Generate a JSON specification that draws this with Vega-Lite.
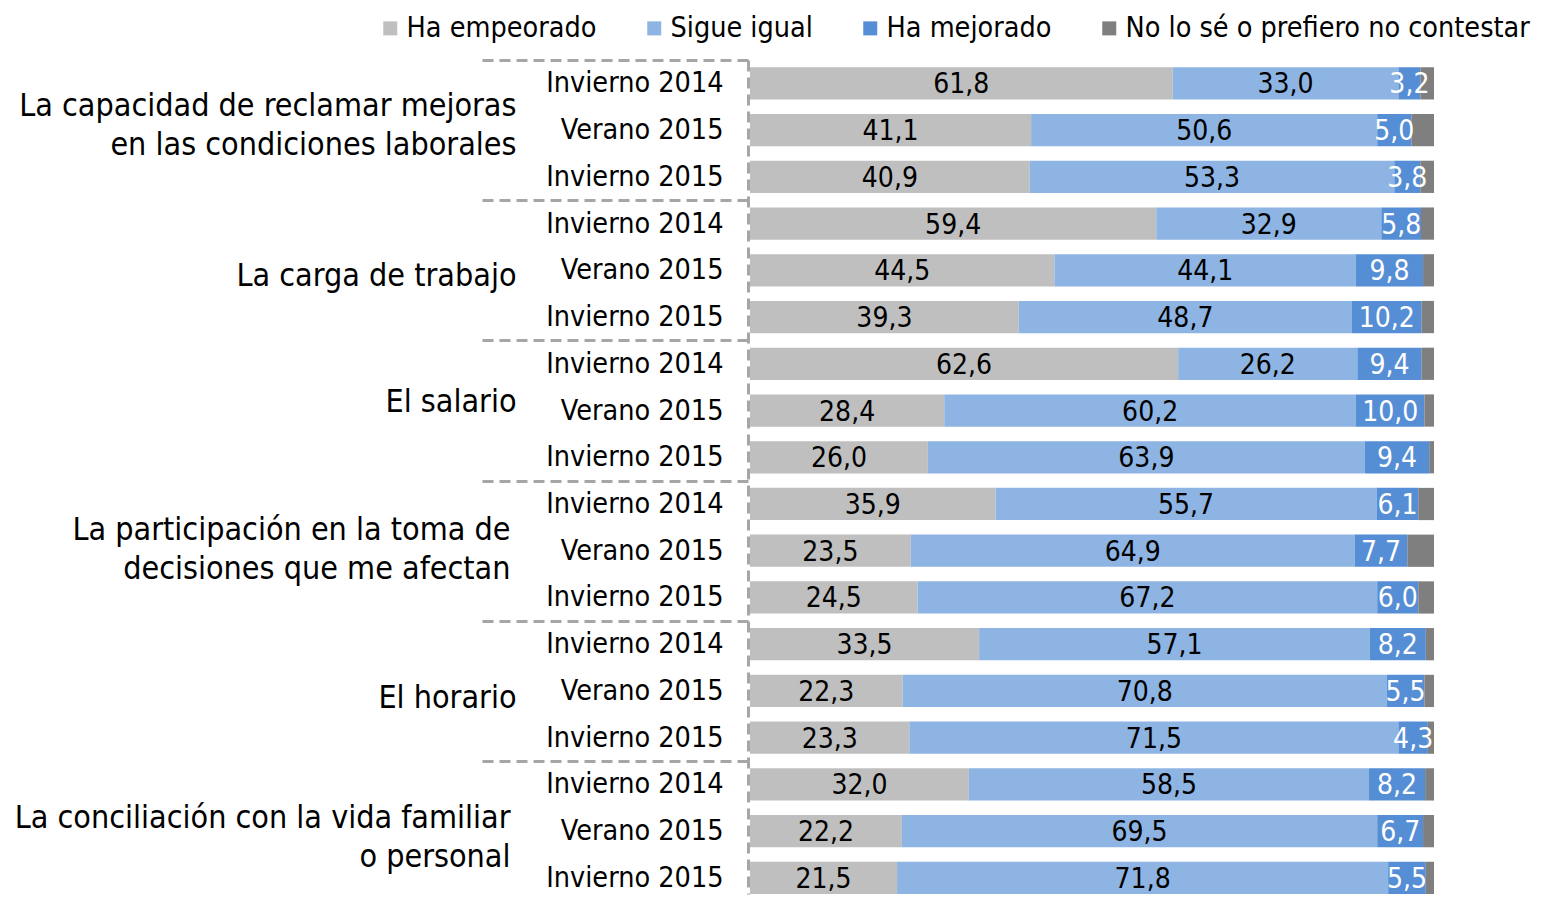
{
  "$schema": "https://vega.github.io/schema/vega-lite/v6.json",
  "width": 684,
  "height": 834,
  "autosize": {"type": "none"},
  "padding": {"left": 750, "top": 60, "right": 110, "bottom": 4},
  "background": "white",
  "config": {
    "font": "DejaVu Sans Condensed",
    "view": {"stroke": null}
  },
  "data": {
    "values": [
      {"g": "La capacidad de reclamar mejoras\nen las condiciones laborales", "p": "Invierno 2014", "Ha empeorado": 61.8, "Sigue igual": 33.0, "Ha mejorado": 3.2, "No lo sé o prefiero no contestar": 2.0},
      {"g": "La capacidad de reclamar mejoras\nen las condiciones laborales", "p": "Verano 2015", "Ha empeorado": 41.1, "Sigue igual": 50.6, "Ha mejorado": 5.0, "No lo sé o prefiero no contestar": 3.3},
      {"g": "La capacidad de reclamar mejoras\nen las condiciones laborales", "p": "Invierno 2015", "Ha empeorado": 40.9, "Sigue igual": 53.3, "Ha mejorado": 3.8, "No lo sé o prefiero no contestar": 2.0},
      {"g": "La carga de trabajo", "p": "Invierno 2014", "Ha empeorado": 59.4, "Sigue igual": 32.9, "Ha mejorado": 5.8, "No lo sé o prefiero no contestar": 1.9},
      {"g": "La carga de trabajo", "p": "Verano 2015", "Ha empeorado": 44.5, "Sigue igual": 44.1, "Ha mejorado": 9.8, "No lo sé o prefiero no contestar": 1.6},
      {"g": "La carga de trabajo", "p": "Invierno 2015", "Ha empeorado": 39.3, "Sigue igual": 48.7, "Ha mejorado": 10.2, "No lo sé o prefiero no contestar": 1.8},
      {"g": "El salario", "p": "Invierno 2014", "Ha empeorado": 62.6, "Sigue igual": 26.2, "Ha mejorado": 9.4, "No lo sé o prefiero no contestar": 1.8},
      {"g": "El salario", "p": "Verano 2015", "Ha empeorado": 28.4, "Sigue igual": 60.2, "Ha mejorado": 10.0, "No lo sé o prefiero no contestar": 1.4},
      {"g": "El salario", "p": "Invierno 2015", "Ha empeorado": 26.0, "Sigue igual": 63.9, "Ha mejorado": 9.4, "No lo sé o prefiero no contestar": 0.7},
      {"g": "La participación en la toma de\ndecisiones que me afectan", "p": "Invierno 2014", "Ha empeorado": 35.9, "Sigue igual": 55.7, "Ha mejorado": 6.1, "No lo sé o prefiero no contestar": 2.3},
      {"g": "La participación en la toma de\ndecisiones que me afectan", "p": "Verano 2015", "Ha empeorado": 23.5, "Sigue igual": 64.9, "Ha mejorado": 7.7, "No lo sé o prefiero no contestar": 3.9},
      {"g": "La participación en la toma de\ndecisiones que me afectan", "p": "Invierno 2015", "Ha empeorado": 24.5, "Sigue igual": 67.2, "Ha mejorado": 6.0, "No lo sé o prefiero no contestar": 2.3},
      {"g": "El horario", "p": "Invierno 2014", "Ha empeorado": 33.5, "Sigue igual": 57.1, "Ha mejorado": 8.2, "No lo sé o prefiero no contestar": 1.2},
      {"g": "El horario", "p": "Verano 2015", "Ha empeorado": 22.3, "Sigue igual": 70.8, "Ha mejorado": 5.5, "No lo sé o prefiero no contestar": 1.4},
      {"g": "El horario", "p": "Invierno 2015", "Ha empeorado": 23.3, "Sigue igual": 71.5, "Ha mejorado": 4.3, "No lo sé o prefiero no contestar": 0.9},
      {"g": "La conciliación con la vida familiar\no personal", "p": "Invierno 2014", "Ha empeorado": 32.0, "Sigue igual": 58.5, "Ha mejorado": 8.2, "No lo sé o prefiero no contestar": 1.3},
      {"g": "La conciliación con la vida familiar\no personal", "p": "Verano 2015", "Ha empeorado": 22.2, "Sigue igual": 69.5, "Ha mejorado": 6.7, "No lo sé o prefiero no contestar": 1.6},
      {"g": "La conciliación con la vida familiar\no personal", "p": "Invierno 2015", "Ha empeorado": 21.5, "Sigue igual": 71.8, "Ha mejorado": 5.5, "No lo sé o prefiero no contestar": 1.2}
    ]
  },
  "transform": [
    {"fold": ["Ha empeorado", "Sigue igual", "Ha mejorado", "No lo sé o prefiero no contestar"], "as": ["r", "v"]},
    {"calculate": "datum.g + '|' + datum.p", "as": "k"},
    {"stack": "v", "groupby": ["k"], "as": ["x0", "x1"]}
  ],
  "layer": [
    {
      "mark": {"type": "bar"},
      "encoding": {
        "y": {
          "field": "k", "type": "nominal", "sort": null,
          "scale": {"paddingInner": 0.31, "paddingOuter": 0.0775, "align": 1},
          "axis": {
            "orient": "left", "title": null, "ticks": false, "tickSize": 0,
            "labelExpr": "split(datum.value, '|')[1]",
            "labelFontSize": 28.5, "labelColor": "black", "labelPadding": 25,
            "labelLimit": 300, "labelOverlap": false,
            "domain": true, "domainColor": "#A6A6A6", "domainDash": [11, 6], "domainWidth": 3,
            "offset": 2
          }
        },
        "x": {"field": "x0", "type": "quantitative", "scale": {"domain": [0, 100], "nice": false}, "axis": null},
        "x2": {"field": "x1"},
        "color": {
          "field": "r", "type": "nominal",
          "scale": {
            "domain": ["Ha empeorado", "Sigue igual", "Ha mejorado", "No lo sé o prefiero no contestar"],
            "range": ["#BFBFBF", "#8DB4E2", "#558ED5", "#7F7F7F"]
          },
          "legend": {
            "orient": "none", "legendX": -374, "legendY": -46,
            "direction": "horizontal", "columns": 4, "title": null,
            "symbolType": "square", "symbolSize": 196, "symbolStrokeWidth": 0,
            "labelFontSize": 28.5, "labelColor": "black", "labelOffset": 2,
            "columnPadding": 43, "labelLimit": 600, "padding": 0
          }
        }
      }
    },
    {
      "transform": [
        {"filter": "datum.r !== 'No lo sé o prefiero no contestar'"},
        {"calculate": "(datum.x0 + datum.x1) / 2", "as": "mid"},
        {"calculate": "replace(format(datum.v, '.1f'), '.', ',')", "as": "lbl"}
      ],
      "mark": {"type": "text", "fontSize": 28, "baseline": "middle", "align": "center", "dy": 2},
      "encoding": {
        "y": {
          "field": "k", "type": "nominal", "sort": null,
          "axis": {
            "orient": "left", "title": null,
            "values": [
              "La capacidad de reclamar mejoras\nen las condiciones laborales|Invierno 2014",
              "La carga de trabajo|Invierno 2014",
              "El salario|Invierno 2014",
              "La participación en la toma de\ndecisiones que me afectan|Invierno 2014",
              "El horario|Invierno 2014",
              "La conciliación con la vida familiar\no personal|Invierno 2014"
            ],
            "domain": false, "ticks": true, "tickSize": 266,
            "tickColor": "#A6A6A6", "tickWidth": 3, "tickDash": [11, 6],
            "tickOffset": -23.37,
            "labelOffset": {
              "condition": [
                {"test": "indexof(datum.value, 'La capacidad') === 0", "value": 46},
                {"test": "indexof(datum.value, 'La carga') === 0", "value": 75},
                {"test": "indexof(datum.value, 'El salario') === 0", "value": 61},
                {"test": "indexof(datum.value, 'La participaci') === 0", "value": 49},
                {"test": "indexof(datum.value, 'El horario') === 0", "value": 77},
                {"test": "indexof(datum.value, 'La conciliaci') === 0", "value": 56}
              ],
              "value": 70
            },
            "labelPadding": {
              "condition": {"test": "indexof(datum.value, 'La participaci') === 0 || indexof(datum.value, 'La conciliaci') === 0", "value": -28},
              "value": -34
            },
            "labelExpr": "split(split(datum.value, '|')[0], '\\n')",
            "labelFontSize": 32, "labelColor": "black", "labelLineHeight": 39,
            "labelLimit": 700, "labelOverlap": false, "offset": 2
          }
        },
        "x": {"field": "mid", "type": "quantitative"},
        "text": {"field": "lbl"},
        "color": {
          "condition": {"test": "datum.r === 'Ha mejorado'", "value": "white"},
          "value": "black"
        }
      }
    }
  ],
  "resolve": {"axis": {"y": "independent"}}
}
